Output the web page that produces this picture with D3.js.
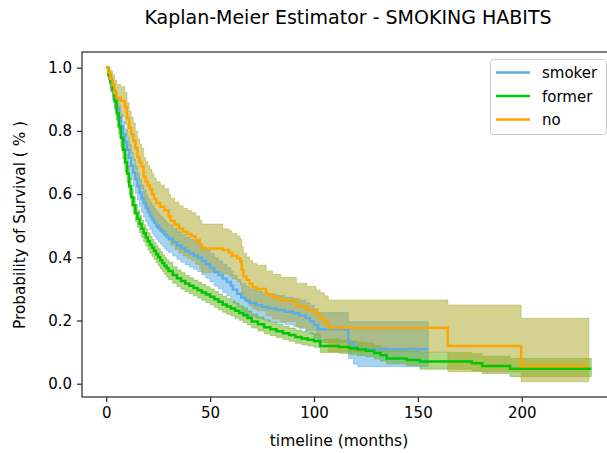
<!DOCTYPE html>
<html>
<head>
<meta charset="utf-8">
<script src="https://cdn.jsdelivr.net/npm/d3@7"></script>
<style>
  html, body { margin: 0; padding: 0; background: #fff; }
  svg { display: block; font-family: "DejaVu Sans", sans-serif; }
</style>
</head>
<body>
<svg id="chart" width="607" height="453"></svg>
<script>
// Kaplan-Meier survival estimates by smoking habit (step functions, times in months)
const groups = ["smoker", "former", "no"];

const smokerTime = [0,1,2,3,4,5,6,7,8,9,10,11,12,13,14,15,16,17,18,19,20,21,22,23,24,25,26,27,28,29,30,32,34,36,38,40,42,44,46,48,50,52,54,56,58,60,61,63,65,67,69,72,75,78,82,86,90,93,96,98,100,102,116.5,119,121];
const smokerSurv = [1.0,0.975,0.95,0.925,0.9,0.872,0.843,0.815,0.79,0.765,0.74,0.715,0.69,0.668,0.647,0.625,0.605,0.587,0.571,0.556,0.543,0.531,0.52,0.51,0.501,0.493,0.486,0.479,0.472,0.465,0.459,0.448,0.437,0.428,0.42,0.413,0.406,0.399,0.388,0.378,0.366,0.353,0.344,0.333,0.322,0.31,0.298,0.285,0.272,0.263,0.255,0.248,0.243,0.238,0.233,0.228,0.223,0.216,0.207,0.198,0.186,0.172,0.128,0.118,0.109];
const smokerUpper = [1.0,0.987,0.97,0.95,0.93,0.905,0.879,0.853,0.83,0.805,0.78,0.757,0.732,0.71,0.689,0.667,0.647,0.629,0.613,0.598,0.585,0.575,0.564,0.554,0.545,0.537,0.53,0.523,0.516,0.509,0.503,0.492,0.481,0.472,0.464,0.457,0.451,0.444,0.433,0.423,0.411,0.398,0.389,0.378,0.367,0.355,0.343,0.33,0.317,0.308,0.3,0.293,0.288,0.284,0.279,0.274,0.27,0.264,0.256,0.248,0.237,0.225,0.196,0.196,0.196];
const smokerLower = [1.0,0.962,0.928,0.898,0.868,0.837,0.805,0.775,0.748,0.722,0.698,0.672,0.646,0.624,0.603,0.581,0.561,0.543,0.527,0.512,0.499,0.487,0.476,0.466,0.457,0.449,0.442,0.435,0.428,0.421,0.415,0.404,0.393,0.384,0.376,0.369,0.362,0.355,0.344,0.334,0.322,0.309,0.3,0.289,0.278,0.267,0.255,0.242,0.23,0.221,0.213,0.207,0.202,0.197,0.192,0.187,0.182,0.175,0.166,0.157,0.145,0.13,0.08,0.062,0.054];
const smokerEnd = 155;

const formerTime = [0,1,2,3,4,5,6,7,8,9,10,11,12,13,14,15,16,17,18,19,20,21,22,23,24,25,26,27,28,29,30,32,34,36,38,40,42,44,46,48,50,52,54,56,58,60,62,64,66,68,70,73,76,79,82,85,88,91,94,97,100,103,112,117,121,125,129,132,135,144.6,151,176,181,194.4];
const formerSurv = [1.0,0.978,0.955,0.93,0.893,0.855,0.815,0.778,0.74,0.70,0.665,0.625,0.59,0.565,0.54,0.522,0.505,0.49,0.476,0.463,0.451,0.44,0.43,0.42,0.41,0.40,0.391,0.382,0.373,0.365,0.357,0.344,0.334,0.325,0.317,0.31,0.303,0.296,0.289,0.282,0.275,0.267,0.259,0.251,0.244,0.238,0.231,0.224,0.217,0.208,0.197,0.188,0.179,0.172,0.166,0.16,0.154,0.148,0.143,0.139,0.135,0.119,0.116,0.112,0.108,0.104,0.097,0.09,0.08,0.075,0.07,0.065,0.056,0.047];
const formerUpper = [1.0,0.986,0.967,0.945,0.911,0.875,0.837,0.802,0.765,0.725,0.691,0.652,0.617,0.592,0.567,0.549,0.532,0.517,0.503,0.49,0.478,0.467,0.457,0.447,0.437,0.427,0.418,0.409,0.40,0.392,0.384,0.37,0.36,0.351,0.343,0.335,0.328,0.321,0.314,0.307,0.30,0.292,0.284,0.276,0.269,0.262,0.255,0.247,0.24,0.231,0.22,0.211,0.202,0.195,0.188,0.182,0.176,0.17,0.165,0.161,0.157,0.141,0.138,0.135,0.131,0.128,0.121,0.114,0.105,0.102,0.099,0.095,0.087,0.08];
const formerLower = [1.0,0.968,0.941,0.913,0.873,0.832,0.79,0.751,0.712,0.672,0.637,0.597,0.562,0.537,0.513,0.495,0.478,0.463,0.449,0.436,0.424,0.413,0.403,0.393,0.383,0.373,0.364,0.355,0.346,0.338,0.33,0.318,0.308,0.299,0.291,0.285,0.278,0.271,0.264,0.257,0.25,0.242,0.234,0.226,0.22,0.214,0.207,0.201,0.194,0.186,0.176,0.167,0.158,0.152,0.146,0.14,0.134,0.128,0.123,0.119,0.115,0.099,0.096,0.093,0.089,0.085,0.078,0.072,0.063,0.057,0.046,0.04,0.032,0.022];
const formerEnd = 233.5;

const noTime = [0,1,2,3,4,5,7,9,10,11,12,13,14,15,16,17,18,19,20,21,22,23,24,26,28,30,31,33,35,37,39,41,43,45,46,56,59,60.5,63,64.5,65.2,66,67.5,69,70.5,72.5,77,80,84,91.5,96.5,101,103,105,106.9,164.4,199.7];
const noSurv = [1.0,0.985,0.965,0.945,0.92,0.905,0.895,0.875,0.84,0.81,0.79,0.77,0.745,0.718,0.70,0.687,0.655,0.64,0.627,0.615,0.6,0.585,0.572,0.56,0.548,0.53,0.516,0.503,0.49,0.481,0.474,0.467,0.455,0.44,0.428,0.423,0.415,0.405,0.397,0.386,0.36,0.34,0.328,0.316,0.305,0.3,0.283,0.272,0.263,0.245,0.233,0.218,0.208,0.196,0.177,0.119,0.056];
const noUpper = [1.0,0.998,0.99,0.978,0.96,0.947,0.94,0.922,0.89,0.862,0.843,0.825,0.8,0.775,0.758,0.745,0.716,0.702,0.69,0.679,0.665,0.651,0.639,0.628,0.617,0.6,0.587,0.575,0.563,0.555,0.548,0.542,0.531,0.517,0.505,0.49,0.484,0.475,0.467,0.457,0.433,0.413,0.401,0.39,0.38,0.375,0.357,0.346,0.336,0.318,0.308,0.296,0.288,0.278,0.265,0.249,0.207];
const noLower = [1.0,0.96,0.932,0.905,0.875,0.857,0.845,0.822,0.782,0.75,0.728,0.706,0.679,0.65,0.63,0.616,0.583,0.567,0.553,0.54,0.524,0.508,0.495,0.482,0.47,0.452,0.438,0.425,0.413,0.404,0.397,0.39,0.378,0.364,0.352,0.348,0.34,0.331,0.323,0.313,0.288,0.269,0.258,0.246,0.236,0.231,0.215,0.205,0.196,0.179,0.168,0.154,0.145,0.134,0.10,0.038,0.006];
const noEnd = 232.3;

const xTicks = [0, 50, 100, 150, 200];
const yTicks = [0.0, 0.2, 0.4, 0.6, 0.8, 1.0];

// Assemble per-group records (last step extended to the group's final follow-up time)
function buildSeries(time, surv, lower, upper, end) {
  const pts = time.map((t, i) => ({ t, s: surv[i], lo: lower[i], hi: upper[i] }));
  const last = pts[pts.length - 1];
  pts.push({ t: end, s: last.s, lo: last.lo, hi: last.hi });
  return pts;
}

const series = [
  { name: "smoker", line: "#5aaee6", band: "#3d9be0", bandOpacity: 0.45, pts: buildSeries(smokerTime, smokerSurv, smokerLower, smokerUpper, smokerEnd) },
  { name: "former", line: "#00c800", band: "#62ad14", bandOpacity: 0.5, pts: buildSeries(formerTime, formerSurv, formerLower, formerUpper, formerEnd) },
  { name: "no", line: "#ffa500", band: "#a9a524", bandOpacity: 0.5, pts: buildSeries(noTime, noSurv, noLower, noUpper, noEnd) }
];

const svg = d3.select("#chart");
const plot = { left: 82, right: 615.6, top: 52, bottom: 397 };

const x = d3.scaleLinear().domain([-11.675, 245.175]).range([plot.left, plot.right]);
const y = d3.scaleLinear().domain([-0.0421, 1.0497]).range([plot.bottom, plot.top]);

const band = d3.area()
  .x(d => x(d.t)).y0(d => y(d.lo)).y1(d => y(d.hi))
  .curve(d3.curveStepAfter);
const line = d3.line()
  .x(d => x(d.t)).y(d => y(d.s))
  .curve(d3.curveStepAfter);

// Confidence bands underneath every curve
const bands = svg.append("g");
series.forEach(s => {
  bands.append("path")
    .attr("d", band(s.pts))
    .attr("fill", s.band).attr("fill-opacity", s.bandOpacity)
    .attr("stroke", s.band).attr("stroke-opacity", s.bandOpacity * 0.8)
    .attr("stroke-width", 1);
});

// Survival curves
const lines = svg.append("g");
series.forEach(s => {
  lines.append("path")
    .attr("d", line(s.pts))
    .attr("fill", "none")
    .attr("stroke", s.line)
    .attr("stroke-width", 2.5)
    .attr("stroke-linejoin", "miter");
});

// Frame
svg.append("rect")
  .attr("x", plot.left).attr("y", plot.top)
  .attr("width", plot.right - plot.left).attr("height", plot.bottom - plot.top)
  .attr("fill", "none").attr("stroke", "#262626").attr("stroke-width", 1.2);

// Axes
const xAxis = svg.append("g")
  .attr("transform", `translate(0,${plot.bottom})`)
  .call(d3.axisBottom(x).tickValues(xTicks).tickFormat(d3.format("d")).tickSize(5).tickPadding(5));
const yAxis = svg.append("g")
  .attr("transform", `translate(${plot.left},0)`)
  .call(d3.axisLeft(y).tickValues(yTicks).tickFormat(d3.format(".1f")).tickSize(5).tickPadding(5));

[xAxis, yAxis].forEach(a => {
  a.select(".domain").remove();
  a.selectAll(".tick line").attr("stroke", "#262626").attr("stroke-width", 1.2);
  a.selectAll(".tick text")
    .attr("fill", "#000")
    .style("font-family", "DejaVu Sans")
    .style("font-size", "15px");
});

// Titles
svg.append("text")
  .attr("x", 348).attr("y", 24)
  .attr("text-anchor", "middle")
  .style("font-size", "19px")
  .text("Kaplan-Meier Estimator - SMOKING HABITS");

svg.append("text")
  .attr("x", 339).attr("y", 446)
  .attr("text-anchor", "middle")
  .style("font-size", "15.5px")
  .text("timeline (months)");

svg.append("text")
  .attr("transform", "translate(25,225) rotate(-90)")
  .attr("text-anchor", "middle")
  .style("font-size", "15.3px")
  .text("Probability of Survival ( % )");

// Legend
const legend = svg.append("g");
legend.append("rect")
  .attr("x", 490.5).attr("y", 59.5).attr("width", 116).attr("height", 75)
  .attr("rx", 3).attr("ry", 3)
  .attr("fill", "#fff").attr("fill-opacity", 0.8)
  .attr("stroke", "#cccccc").attr("stroke-width", 1);
series.forEach((s, i) => {
  const cy = 72.5 + i * 23.5;
  legend.append("line")
    .attr("x1", 496).attr("x2", 530).attr("y1", cy).attr("y2", cy)
    .attr("stroke", s.line).attr("stroke-width", 2.5);
  legend.append("text")
    .attr("x", 542).attr("y", cy + 5.5)
    .style("font-size", "15px")
    .text(s.name);
});
</script>
</body>
</html>
